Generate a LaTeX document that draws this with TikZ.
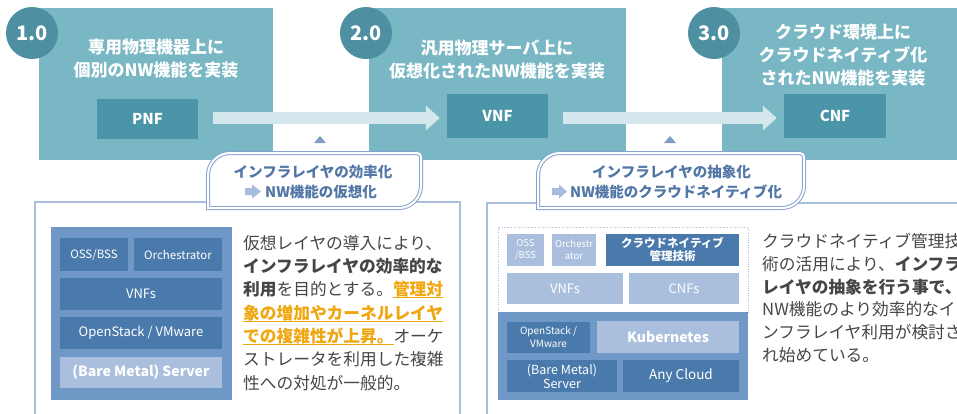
\documentclass[tikz,border=0pt]{standalone}
\usepackage{fontspec}
\setmainfont{Noto Sans CJK JP}
\usetikzlibrary{arrows.meta,calc}
\definecolor{tealL}{HTML}{78B7C3}
\definecolor{tealD}{HTML}{4A95A7}
\definecolor{tealC}{HTML}{4E8FA1}
\definecolor{arrowL}{HTML}{D4E7EC}
\definecolor{stkM}{HTML}{7098C7}
\definecolor{stkD}{HTML}{4A7AAB}
\definecolor{stkL}{HTML}{A9BFDD}
\definecolor{cbord}{HTML}{86A3CF}
\definecolor{ctext}{HTML}{5276A6}
\definecolor{panelB}{HTML}{A9BEDD}
\definecolor{bodyT}{HTML}{454545}
\definecolor{orng}{HTML}{EFA60F}
\definecolor{tri}{HTML}{7F9CC8}
\definecolor{iconC}{HTML}{A8BCE0}
\newcommand\myul[1]{\sbox0{\color{orng}\bfseries #1}\rlap{\color{orng}\rule[-2.5pt]{\wd0}{1pt}}\usebox0}
\newcommand\fs[2]{\fontsize{#1}{#2}\selectfont}
\begin{document}
\begin{tikzpicture}[x=1pt,y=-1pt,
  blk/.style={rectangle, inner sep=0pt, align=center, text=white},
  ttl/.style={align=center, text=white, inner sep=0pt, font=\bfseries\fs{17}{23}},
  num/.style={circle, fill=tealC, minimum size=52pt, inner sep=0pt, text=white, font=\bfseries\fs{20}{24}},
  nf/.style={blk, fill=tealD, font=\bfseries\fs{15}{18}},
  bigarrow/.style={line width=12pt, draw=arrowL, -{Triangle[length=14pt,width=24pt]}},
  callout/.style={draw=cbord, line width=1pt, double=white, double distance=2pt, fill=white},
  ctxt/.style={inner sep=0pt, text=ctext, font=\bfseries\fs{14.5}{18}},
  panel/.style={draw=panelB, line width=1.2pt},
  bodyl/.style={anchor=west, inner sep=0pt, text=bodyT, font=\fs{16.7}{20}, text height=14.7pt, text depth=2pt},
  bodyr/.style={bodyl, font=\fs{16.7}{20}}
]
\useasboundingbox (0,0) rectangle (957,413);
\clip (0,0) rectangle (957,413);

% lower panels
\draw[panel] (35,202) rectangle (460,430);
\draw[panel] (487,203) rectangle (990,430);

% top teal boxes
\node[blk, fill=tealL, minimum width=234pt, minimum height=152pt] (s1) at (156,84) {};
\node[blk, fill=tealL, minimum width=257pt, minimum height=152pt] (s2) at (497.5,84) {};
\node[blk, fill=tealL, minimum width=242pt, minimum height=152pt] (s3) at (843,84) {};

\node[num] (c1) at (32,33) {1.0};
\node[num] (c2) at (366,33) {2.0};
\node[num] (c3) at (714,33) {3.0};

\node[ttl] (t1) at (156,58.5) {専用物理機器上に\\個別のNW機能を実装};
\node[ttl] (t2) at (497,59.5) {汎用物理サーバ上に\\仮想化されたNW機能を実装};
\node[ttl] (t3) at (843,55) {クラウド環境上に\\クラウドネイティブ化\\されたNW機能を実装};

\node[nf, minimum width=101pt, minimum height=40pt] (pnf) at (147.5,119) {PNF};
\node[nf, minimum width=101pt, minimum height=44pt] (vnf) at (497.5,116) {VNF};
\node[nf, minimum width=102pt, minimum height=44pt] (cnf) at (835,116) {CNF};

\draw[bigarrow] ($(pnf.east)+(15,-1)$) -- ($(vnf.west)+(-7,2)$);
\draw[bigarrow] ($(vnf.east)+(15,2)$) -- ($(cnf.west)+(-7,2)$);

% small triangles
\fill[tri] (314,143) -- (326,143) -- (320,136) -- cycle;
\fill[tri] (664,143) -- (676,143) -- (670,136) -- cycle;

% callouts
\draw[callout] (208,208) -- (208,175) .. controls (208,162.9) and (217.9,153) .. (230,153)
  -- (417,153) .. controls (419.2,153) and (421,154.8) .. (421,157)
  -- (421,186) .. controls (421,198.1) and (411.1,208) .. (399,208) -- cycle;
\draw[callout] (538,208) -- (538,175) .. controls (538,162.9) and (547.9,153) .. (560,153)
  -- (800,153) .. controls (802.2,153) and (804,154.8) .. (804,157)
  -- (804,186) .. controls (804,198.1) and (794.1,208) .. (782,208) -- cycle;

\node[ctxt] (k1a) at (313,172) {インフラレイヤの効率化};
\node[ctxt, anchor=west] (k1b) at (265,192) {NW機能の仮想化};
\fill[iconC] (245,188) -- (252,188) -- (252,184.5) -- (261,191.5) -- (252,198.5) -- (252,195) -- (245,195) -- cycle;
\node[ctxt] (k2a) at (671.5,172) {インフラレイヤの抽象化};
\node[ctxt, anchor=west] (k2b) at (570,192) {NW機能のクラウドネイティブ化};
\fill[iconC] (552,188) -- (559,188) -- (559,184.5) -- (567,191.5) -- (559,198.5) -- (559,195) -- (552,195) -- cycle;

% stack 1
\node[blk, fill=stkM, minimum width=181pt, minimum height=173pt] (o1) at (141.5,313.5) {};
\node[blk, fill=stkD, minimum width=68pt, minimum height=33pt, font=\fs{11.5}{13}] (a1) at (94,254.5) {OSS/BSS};
\node[blk, fill=stkD, minimum width=88pt, minimum height=33pt, font=\fs{11.5}{13}] (a2) at (178,254.5) {Orchestrator};
\node[blk, fill=stkD, minimum width=162pt, minimum height=32pt, font=\fs{13}{15}] (a3) at (141,294) {VNFs};
\node[blk, fill=stkD, minimum width=162pt, minimum height=32pt, font=\fs{13}{15}] (a4) at (141,333) {OpenStack / VMware};
\node[blk, fill=stkL, minimum width=162pt, minimum height=31pt, font=\bfseries\fs{14}{16}] (a5) at (141,372.5) {(Bare Metal) Server};

% stack 2
\node[blk, draw=stkL, dotted, fill=white, minimum width=250pt, minimum height=85pt] (o2t) at (623,269.5) {};
\node[blk, fill=stkM, minimum width=250pt, minimum height=88pt] (o2b) at (623,356) {};
\node[blk, fill=stkL, minimum width=37pt, minimum height=32pt, font=\fs{9.5}{12}] (b1) at (525.5,250) {OSS\\/BSS};
\node[blk, fill=stkL, minimum width=44pt, minimum height=32pt, font=\fs{9.5}{12}] (b2) at (574,250) {Orchestr\\ator};
\node[blk, fill=stkD, minimum width=133pt, minimum height=32pt, font=\bfseries\fs{11.5}{13}] (b3) at (672.5,250) {クラウドネイティブ\\管理技術};
\node[blk, fill=stkL, minimum width=116pt, minimum height=31pt, font=\fs{13}{15}] (b4) at (565,288.5) {VNFs};
\node[blk, fill=stkL, minimum width=110pt, minimum height=31pt, font=\fs{13}{15}] (b5) at (684,288.5) {CNFs};
\node[blk, fill=stkD, minimum width=83pt, minimum height=31pt, font=\fs{10}{13}] (b6) at (548.5,337.5) {OpenStack /\\VMware};
\node[blk, fill=stkL, minimum width=142pt, minimum height=32pt, font=\bfseries\fs{14}{16}] (b7) at (668,337) {Kubernetes};
\node[blk, fill=stkD, minimum width=110pt, minimum height=32pt, font=\fs{12.5}{14}] (b8) at (562,376) {(Bare Metal)\\Server};
\node[blk, fill=stkD, minimum width=116pt, minimum height=32pt, font=\fs{13.5}{15}] (b9) at (681,376) {Any Cloud};

% body text 1
\node[bodyl] (p1a) at (243,243) {仮想レイヤの導入により、};
\node[bodyl] (p1b) at (243,266.3) {\bfseries インフラレイヤの効率的な};
\node[bodyl] (p1c) at (243,289.6) {\textbf{利用}を目的とする。\myul{管理対}};
\node[bodyl] (p1d) at (243,312.9) {\myul{象の増加やカーネルレイヤ}};
\node[bodyl] (p1e) at (243,336.2) {\myul{での複雑性が上昇。}オーケ};
\node[bodyl] (p1f) at (243,359.5) {ストレータを利用した複雑};
\node[bodyl] (p1g) at (243,382.8) {性への対処が一般的。};

% body text 2
\node[bodyr] (p2a) at (762,241.5) {クラウドネイティブ管理技};
\node[bodyr] (p2b) at (762,264.15) {術の活用により、\textbf{インフラ}};
\node[bodyr] (p2c) at (762,286.8) {\textbf{レイヤの抽象を行う事で、}};
\node[bodyr] (p2d) at (762,309.45) {NW機能のより効率的なイ};
\node[bodyr] (p2e) at (762,332.1) {ンフラレイヤ利用が検討さ};
\node[bodyr] (p2f) at (762,354.75) {れ始めている。};
\end{tikzpicture}
\end{document}
